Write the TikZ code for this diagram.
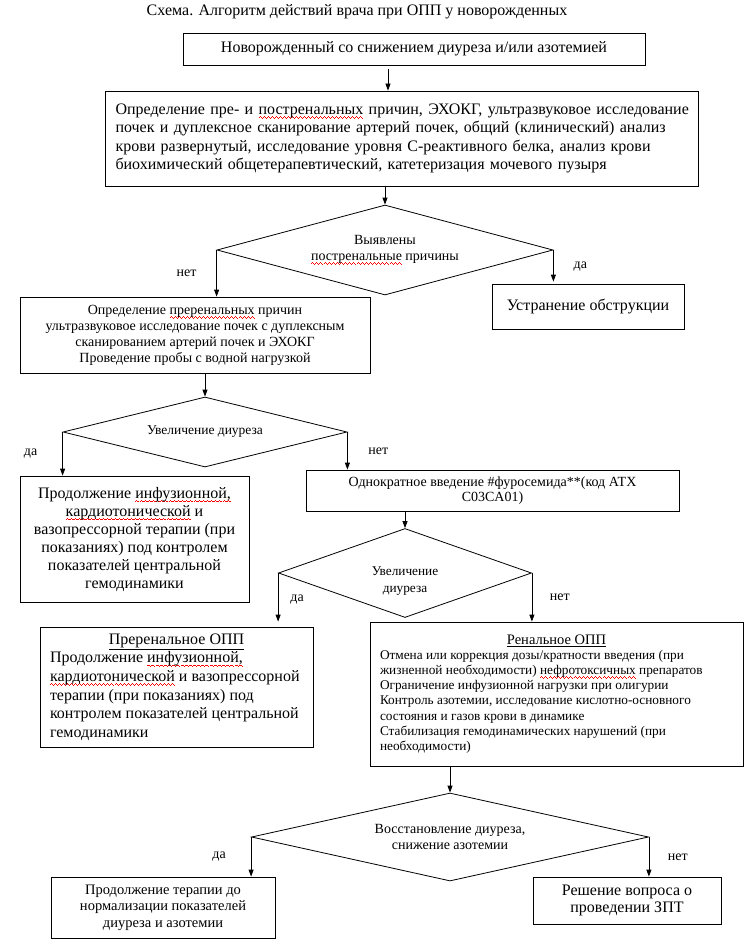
\documentclass[tikz,border=0pt]{standalone}
\usepackage{fontspec}
\setmainfont{Liberation Serif}
\usepackage{xcolor}
\usetikzlibrary{shapes.geometric, arrows.meta}
\newcommand{\szA}{\fontsize{16}{18.4}\selectfont}
\newcommand{\szB}{\fontsize{14}{16}\selectfont}
\newcommand{\szC}{\fontsize{13.3}{15.2}\selectfont}
\newsavebox{\sqbox}
\newcommand{\sqwave}{\hbox{\rule[-3.4pt]{1pt}{0.8pt}\rule[-2.6pt]{1pt}{0.8pt}\rule[-3.4pt]{1pt}{0.8pt}\rule[-4.2pt]{1pt}{0.8pt}}}
\newcommand{\sq}[1]{\sbox{\sqbox}{#1}\rlap{\color{red}\hbox to\wd\sqbox{\xleaders\sqwave\hfil}}\usebox{\sqbox}}
\newcommand{\jl}[1]{\makebox[\linewidth][s]{#1}}

\begin{document}
\begin{tikzpicture}[x=1pt, y=-1pt, line width=0.8pt, >={Triangle[length=7pt,width=5pt]},
  box/.style={draw, rectangle, inner sep=0pt},
  ask/.style={draw, diamond, inner sep=0pt},
  lbl/.style={font=\szB}]
\useasboundingbox (0,0) rectangle (744,939);

\node[font=\szA] (head) at (357,12) {Схема. Алгоритм действий врача при ОПП у новорожденных};

\node[box, minimum width=462pt, minimum height=32pt, font=\szA] (newb) at (414,49)
  {Новорожденный со снижением диуреза и/или азотемией};
\node[box, minimum width=593pt, minimum height=95pt, text width=572pt, align=left, font=\szA] (exam) at (401.5,138.5)
  {\jl{Определение пре- и \sq{постренальных} причин, ЭХОКГ, ультразвуковое исследование}\\
   \jl{почек и дуплексное сканирование артерий почек, общий (клинический) анализ}\\
   \jl{крови развернутый, исследование уровня С-реактивного белка, анализ крови}\\
   биохимический общетерапевтический, катетеризация мочевого пузыря};

\node[ask, minimum width=336pt, minimum height=90pt, aspect=3.7, align=center, font=\szB] (post) at (385,250)
  {Выявлены\\ \sq{постренальные} причины};
\node[box, minimum width=350pt, minimum height=76pt, align=center, font=\szB] (pre) at (195,335)
  {Определение \sq{преренальных} причин\\
   ультразвуковое исследование почек с дуплексным\\
   сканированием артерий почек и ЭХОКГ\\
   Проведение пробы с водной нагрузкой};
\node[box, minimum width=192pt, minimum height=45pt, font=\szA] (obst) at (588,306.5) {Устранение обструкции};

\node[ask, minimum width=284pt, minimum height=70pt, aspect=4, font=\fontsize{13.5}{15.5}\selectfont] (rise) at (205,432)
  {Увеличение диуреза};
\node[box, minimum width=229pt, minimum height=126pt, align=center, font=\fontsize{16}{18}\selectfont] (contA) at (134.5,539)
  {Продолжение \sq{инфузионной,}\\ \sq{кардиотонической} и\\ вазопрессорной терапии (при\\
   показаниях) под контролем\\ показателей центральной\\ гемодинамики};
\node[box, minimum width=373pt, minimum height=41pt, align=center, font=\fontsize{14}{15}\selectfont] (furo) at (492.5,490.5)
  {Однократное введение \#фуросемида**(код АТХ\\ C03CA01)};

\node[ask, minimum width=253pt, minimum height=89pt, aspect=2.8, align=center, font=\fontsize{13.3}{17}\selectfont] (again) at (405,573)
  {\rule{0pt}{24pt}Увеличение\\ диуреза};
\node[box, minimum width=273pt, minimum height=120pt, align=left, font=\fontsize{16}{18.6}\selectfont] (preo) at (176.5,687)
  {\makebox[253pt]{\underline{Преренальное ОПП}}\\
   Продолжение \sq{инфузионной,}\\
   \sq{кардиотонической} и вазопрессорной\\
   терапии (при показаниях) под\\
   контролем показателей центральной\\
   гемодинамики};
\node[box, minimum width=373pt, minimum height=144pt, align=left, font=\szC] (reno) at (556.5,694)
  {\makebox[353pt]{\fontsize{14.5}{15.2}\selectfont\underline{Ренальное ОПП}}\\
   Отмена или коррекция дозы/кратности введения (при\\
   жизненной необходимости) \sq{нефротоксичных} препаратов\\
   Ограничение инфузионной нагрузки при олигурии\\
   Контроль азотемии, исследование кислотно-основного\\
   состояния и газов крови в динамике\\
   Стабилизация гемодинамических нарушений (при\\
   необходимости)};

\node[ask, minimum width=397pt, minimum height=88pt, aspect=4.5, align=center, font=\szB] (reco) at (450,837)
  {Восстановление диуреза,\\ снижение азотемии};
\node[box, minimum width=224pt, minimum height=61pt, align=center, font=\fontsize{14.5}{16.5}\selectfont] (cont) at (163,907.5)
  {Продолжение терапии до\\ нормализации показателей\\ диуреза и азотемии};
\node[box, minimum width=188pt, minimum height=47pt, align=center, font=\fontsize{16}{17}\selectfont] (rrt) at (627,900.5)
  {Решение вопроса о\\ проведении ЗПТ};

% connectors
\coordinate (a1) at ([xshift=-26pt]newb.south);
\draw[->, shorten <=4pt] (a1) -- (a1 |- exam.north);
\draw[->] (post.north |- exam.south) -- (post.north);
\draw[->] (post.west) -- (post.west |- pre.north) node[lbl, midway, xshift=-30pt] {нет};
\draw[->, shorten >=2pt] (post.east) -- (post.east |- obst.north) node[lbl, midway, xshift=27pt] {да};
\draw[->] (rise.north |- pre.south) -- (rise.north);
\draw[->] (rise.west) -- (rise.west |- contA.north) node[lbl, midway, xshift=-32pt] {да};
\draw[->] (rise.east) -- (rise.east |- furo.north) node[lbl, midway, xshift=31pt] {нет};
\draw[->] (again.north |- furo.south) -- (again.north);
\draw[->, shorten >=5pt] (again.west) -- (again.west |- preo.north) node[lbl, midway, xshift=19pt] {да};
\draw[->] (again.east) -- (again.east |- reno.north) node[lbl, midway, xshift=28pt] {нет};
\draw[->] (reco.north |- reno.south) -- (reco.north);
\draw[->] (reco.west) -- (reco.west |- cont.north) node[lbl, midway, xshift=-32pt] {да};
\draw[->] (reco.east) -- (reco.east |- rrt.north) node[lbl, midway, xshift=29pt] {нет};

\end{tikzpicture}
\end{document}
